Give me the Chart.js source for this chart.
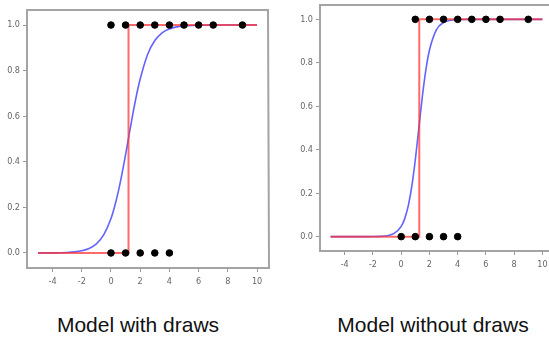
<!DOCTYPE html>
<html>
<head>
<meta charset="utf-8">
<script src="https://cdn.jsdelivr.net/npm/chart.js@4"></script>
<style>
  html, body { margin: 0; padding: 0; background: #fff; width: 549px; height: 337px; overflow: hidden; position: relative; }
  #wrap2 { position: absolute; left: 275px; top: 0; width: 274px; height: 295px; overflow: hidden; }
  canvas { position: absolute; top: 0; left: 0; }
  .caption { position: absolute; top: 313px; font-family: 'Liberation Sans', Arial, sans-serif; font-size: 21px; color: #111; white-space: nowrap; transform: translateX(-50%); }
</style>
</head>
<body>
<canvas id="c1" width="275" height="295"></canvas>
<div id="wrap2"><canvas id="c2" width="300" height="295"></canvas></div>
<div class="caption" style="left:138px">Model with draws</div>
<div class="caption" style="left:433px">Model without draws</div>
<script>
const xTicks = [-4, -2, 0, 2, 4, 6, 8, 10];
const yTicks = [0, 0.2, 0.4, 0.6, 0.8, 1.0];

// observed outcomes
const withOnesX = [0, 1, 2, 3, 4, 5, 6, 7, 9];
const withZerosX = [0, 1, 2, 3, 4];
const withoutOnesX = [1, 2, 3, 4, 5, 6, 7, 9];
const withoutZerosX = [0, 1, 2, 3, 4];

// fitted curves
const curveX = [-5, -4, -3, -2.5, -2, -1.5, -1, -0.5, 0, 0.25, 0.5, 0.75, 1, 1.25, 1.5, 1.75, 2, 2.5, 3, 3.5, 4, 4.5, 5, 6, 7, 8, 9, 10];
const withCurve = [0.0001, 0.0005, 0.0023, 0.0047, 0.0097, 0.0198, 0.040, 0.079, 0.151, 0.204, 0.269, 0.346, 0.431, 0.522, 0.611, 0.693, 0.763, 0.870, 0.932, 0.966, 0.983, 0.992, 0.996, 0.999, 1.0, 1.0, 1.0, 1.0];
const withoutCurve = [0, 0, 0, 0.0001, 0.0004, 0.0014, 0.0045, 0.0148, 0.047, 0.083, 0.142, 0.231, 0.354, 0.5, 0.646, 0.769, 0.858, 0.953, 0.985, 0.9955, 0.9986, 0.9996, 1.0, 1.0, 1.0, 1.0, 1.0, 1.0];

// decision step
const withStepX = [-5, 1.2, 1.2, 10];
const withoutStepX = [-5, 1.28, 1.28, 10];
const stepY = [0, 0, 1, 1];

const tickFont = { family: "'Liberation Sans Narrow', 'DejaVu Sans Condensed', sans-serif", size: 9 };

// matplotlib-like box round the plot area (right side optional)
function framePlugin(withRight) {
  return {
    id: 'frame',
    afterDraw(chart) {
      const a = chart.chartArea, ctx = chart.ctx;
      ctx.save();
      ctx.strokeStyle = '#a4a4a4';
      ctx.lineWidth = 2;
      ctx.beginPath();
      ctx.moveTo(a.right + 1, a.top);
      ctx.lineTo(a.left, a.top);
      ctx.lineTo(a.left, a.bottom);
      ctx.lineTo(a.right + 1, a.bottom);
      if (withRight) ctx.lineTo(a.right, a.top);
      ctx.stroke();
      ctx.restore();
    }
  };
}

function pts(xs, ys) {
  return xs.map((x, i) => ({ x: x, y: Array.isArray(ys) ? ys[i] : ys }));
}

function makeChart(id, onesX, zerosX, curve, stepX, yWidth, xHeight, padTop, padRight, withRight) {
  return new Chart(document.getElementById(id), {
    type: 'scatter',
    data: {
      datasets: [
        { data: pts(onesX, 1).concat(pts(zerosX, 0)), backgroundColor: '#000', borderColor: '#000', pointRadius: 3.3, order: 0 },
        { data: pts(stepX, stepY), showLine: true, borderColor: 'rgba(255,50,50,0.72)', borderWidth: 2, pointRadius: 0, order: 1 },
        { data: pts(curveX, curve), showLine: true, borderColor: 'rgba(60,60,255,0.8)', borderWidth: 1.6, pointRadius: 0, cubicInterpolationMode: 'monotone', order: 2 }
      ]
    },
    options: {
      responsive: false,
      animation: false,
      layout: { padding: { top: padTop, right: padRight, left: 0, bottom: 0 } },
      plugins: { legend: { display: false }, tooltip: { enabled: false } },
      scales: {
        x: {
          type: 'linear', min: -5.75, max: 10.75,
          afterBuildTicks: s => { s.ticks = xTicks.map(v => ({ value: v })); },
          afterFit: s => { s.height = xHeight; s.paddingLeft = 0; s.paddingRight = 0; },
          grid: { drawOnChartArea: false, drawTicks: true, tickLength: 4, color: '#999' },
          border: { display: false },
          ticks: { font: tickFont, color: '#666', padding: 4, maxRotation: 0 }
        },
        y: {
          type: 'linear', min: -0.066, max: 1.066,
          afterBuildTicks: s => { s.ticks = yTicks.map(v => ({ value: v })); },
          afterFit: s => { s.width = yWidth; s.paddingTop = 0; s.paddingBottom = 0; },
          grid: { drawOnChartArea: false, drawTicks: true, tickLength: 4, color: '#999' },
          border: { display: false },
          ticks: { font: tickFont, color: '#666', padding: 3, callback: v => v.toFixed(1) }
        }
      }
    },
    plugins: [framePlugin(withRight)]
  });
}

makeChart('c1', withOnesX, withZerosX, withCurve, withStepX, 27, 27, 10, 7, true);
// right panel runs past the picture edge, as in the source screenshot
makeChart('c2', withoutOnesX, withoutZerosX, withoutCurve, withoutStepX, 45, 44, 5, 22, false);
</script>
</body>
</html>
